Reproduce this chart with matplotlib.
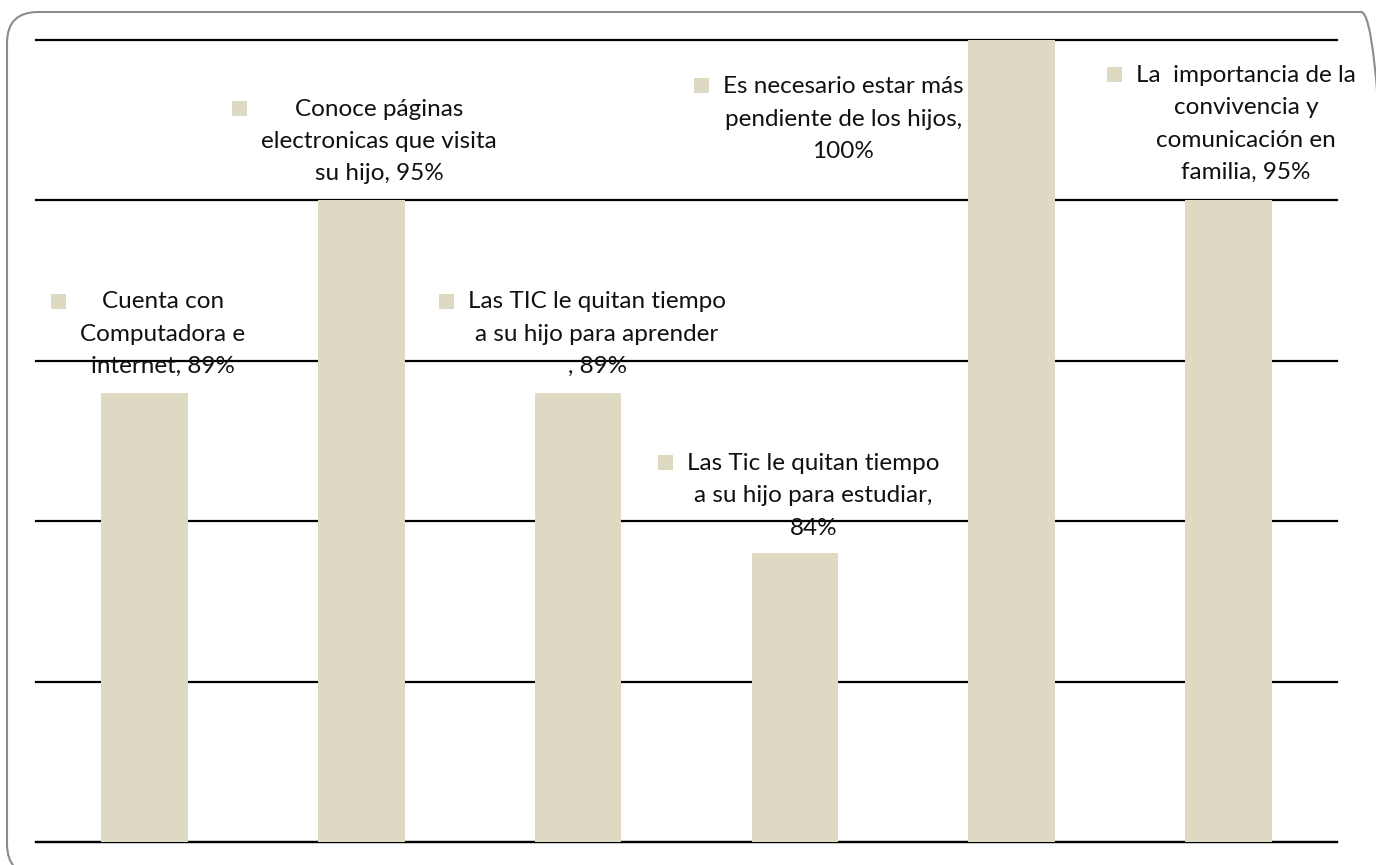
import matplotlib
matplotlib.use("Agg")
import matplotlib.pyplot as plt
from matplotlib.patches import FancyBboxPatch, Rectangle

# ---- data ----
categories = [
    "Cuenta con\nComputadora e\ninternet",
    "Conoce páginas\nelectronicas que visita\nsu hijo",
    "Las TIC le quitan tiempo\na su hijo para aprender\n",
    "Las Tic le quitan tiempo\na su hijo para estudiar",
    "Es necesario estar más\npendiente de los hijos",
    "La  importancia de la\nconvivencia y\ncomunicación en\nfamilia",
]
values = [89, 95, 89, 84, 100, 95]
value_breaks = [" ", " ", " ", "\n", "\n", " "]
# label block offsets (pixels) relative to the top centre of each bar
label_dx = [18.5, 18, 19, 18.5, -168.5, 17.5]
label_dy = [58.5, 59, 58.5, 57.5, -79, 76.5]

BAR = "#DDD9C3"
W, H, DPI = 1376, 865, 100
FONT = "Lato"
FS = 17.5
LINE_PX = 33

fig = plt.figure(figsize=(W / DPI, H / DPI), dpi=DPI)
fig.patch.set_facecolor("white")

# rounded frame
frame = FancyBboxPatch((7, -10), 1392 - 7, (H - 12) + 10,
                       boxstyle="round,pad=0,rounding_size=31",
                       transform=None, facecolor="none",
                       edgecolor="#8c8c8c", linewidth=1.5, zorder=0)
fig.patches.append(frame)

ax = fig.add_axes([36 / W, 23 / H, (1337 - 36) / W, (842 - 40) / H])
ax.set_facecolor("none")
x = list(range(len(values)))
ax.bar(x, values, width=0.40, color=BAR, zorder=3)
ax.set_xlim(-0.5, len(values) - 0.5)
ax.set_ylim(75, 100)
ax.set_yticks([75, 80, 85, 90, 95, 100])
ax.yaxis.grid(True, color="black", linewidth=1.6, zorder=1)
ax.set_axisbelow(True)
for gl in ax.yaxis.get_gridlines():
    gl.set_clip_on(False)
for s in ["left", "right", "top"]:
    ax.spines[s].set_visible(False)
ax.spines["bottom"].set_linewidth(1.6)
ax.spines["bottom"].set_zorder(1)
ax.tick_params(left=False, bottom=False, labelleft=False, labelbottom=False)

texts = []
for i, (cat, v, brk) in enumerate(zip(categories, values, value_breaks)):
    lab = f"{cat},{brk}{v}%"
    t = ax.annotate(lab, xy=(i, v), xytext=(label_dx[i], label_dy[i]),
                    textcoords="offset pixels", ha="center", va="center",
                    multialignment="center", fontsize=FS, family=FONT,
                    color="#111111", linespacing=1.67, zorder=5,
                    annotation_clip=False)
    texts.append((t, lab.count("\n") + 1))

fig.canvas.draw()
renderer = fig.canvas.get_renderer()
inv = fig.transFigure.inverted()
for t, n in texts:
    bb = t.get_window_extent(renderer)
    cy = (bb.y0 + bb.y1) / 2 + (n - 1) / 2 * LINE_PX
    x1 = bb.x0 - 14
    x0 = x1 - 15
    (fx0, fy0) = inv.transform((x0, cy - 7.5))
    (fx1, fy1) = inv.transform((x1, cy + 7.5))
    fig.patches.append(Rectangle((fx0, fy0), fx1 - fx0, fy1 - fy0,
                                 transform=fig.transFigure,
                                 facecolor=BAR, edgecolor="none", zorder=6))

fig.savefig("out.png", dpi=DPI)
